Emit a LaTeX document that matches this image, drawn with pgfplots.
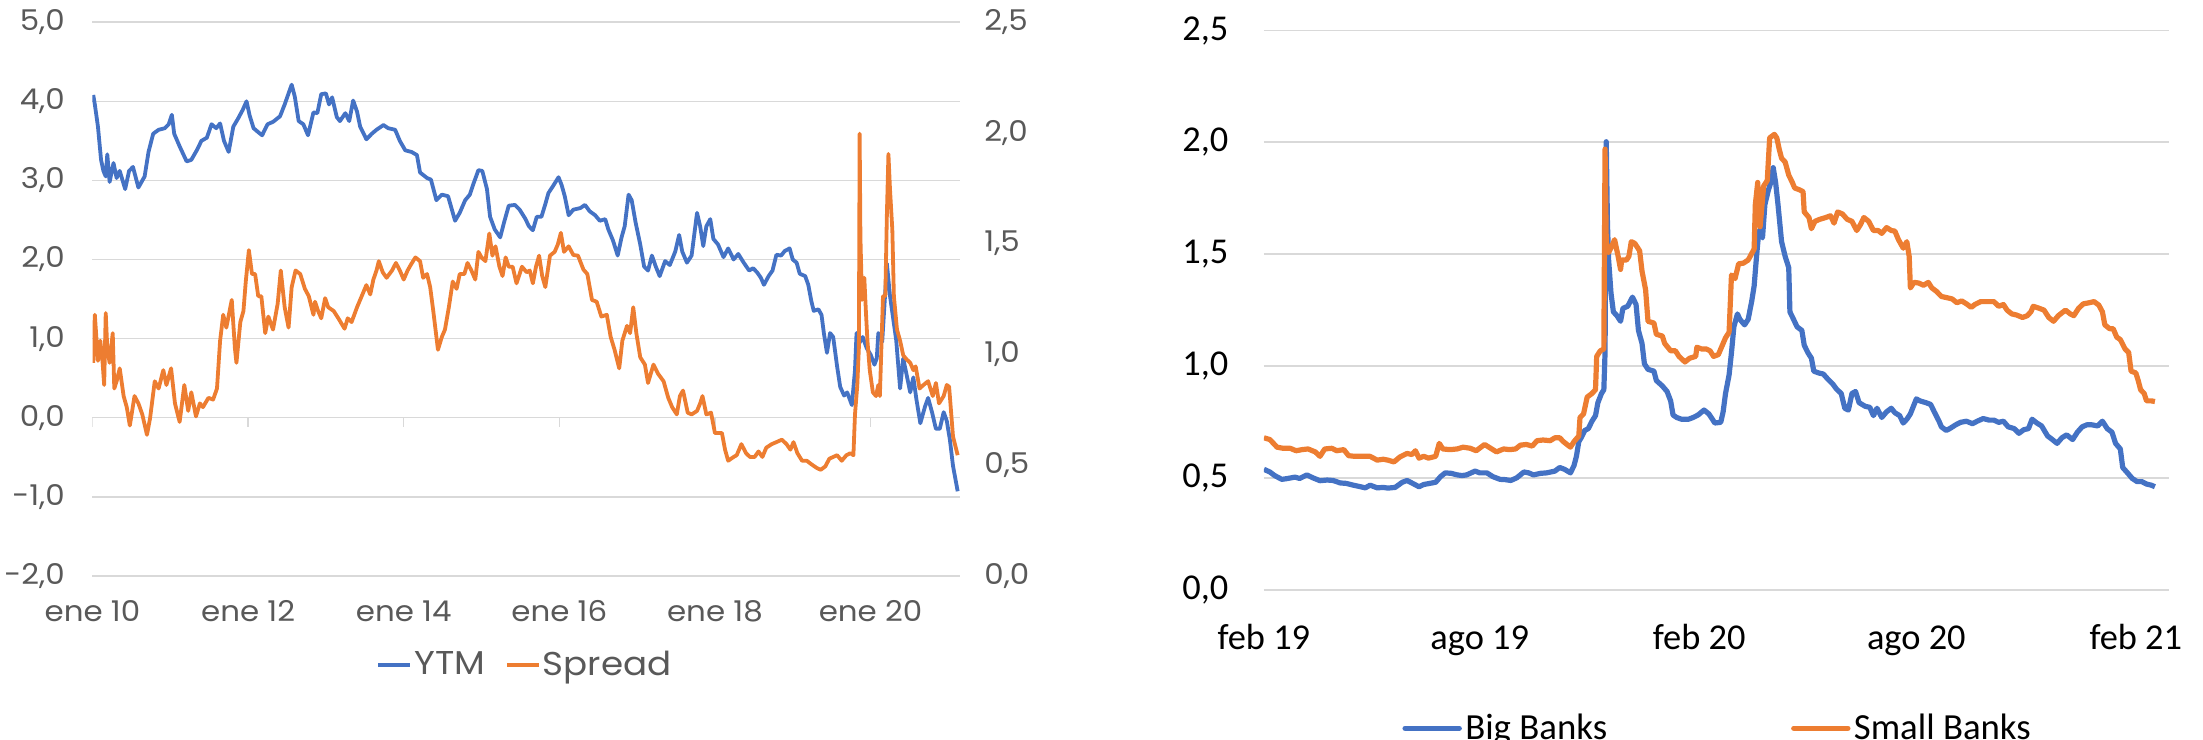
\documentclass[border=0pt]{standalone}
\usepackage{fontspec}
\setmainfont{Carlito}
\newfontfamily\gothic{Poppins}[FakeStretch=1.08]
\usepackage{pgfplots}
\usepackage{pgfplotstable}
\pgfplotsset{compat=1.18}
\definecolor{ytmblue}{HTML}{4472C4}
\definecolor{sprorange}{HTML}{ED7D31}
\definecolor{gridgray}{HTML}{D9D9D9}
\definecolor{labelgray}{HTML}{595959}

\pgfplotstableread{
x y
2010.01 4.08
2010.03 3.96
2010.07 3.68
2010.11 3.26
2010.14 3.12
2010.17 3.05
2010.19 3.33
2010.22 2.98
2010.27 3.22
2010.31 3.03
2010.35 3.12
2010.42 2.89
2010.47 3.12
2010.52 3.17
2010.59 2.91
2010.67 3.05
2010.72 3.36
2010.78 3.59
2010.85 3.64
2010.93 3.66
2010.98 3.71
2011.02 3.83
2011.05 3.59
2011.12 3.43
2011.21 3.24
2011.27 3.26
2011.34 3.38
2011.40 3.50
2011.47 3.54
2011.53 3.71
2011.59 3.66
2011.64 3.72
2011.69 3.50
2011.75 3.36
2011.81 3.68
2011.87 3.78
2011.93 3.89
2011.98 4.00
2012.02 3.82
2012.07 3.66
2012.13 3.61
2012.18 3.57
2012.25 3.71
2012.32 3.74
2012.41 3.81
2012.47 3.96
2012.52 4.10
2012.56 4.21
2012.60 4.06
2012.65 3.75
2012.71 3.71
2012.77 3.57
2012.84 3.86
2012.89 3.85
2012.94 4.09
2013.00 4.10
2013.04 3.96
2013.08 4.05
2013.14 3.80
2013.18 3.75
2013.25 3.85
2013.30 3.75
2013.35 4.01
2013.40 3.87
2013.44 3.68
2013.52 3.52
2013.59 3.59
2013.65 3.64
2013.74 3.70
2013.80 3.66
2013.89 3.64
2013.95 3.50
2014.02 3.38
2014.10 3.36
2014.17 3.32
2014.21 3.10
2014.30 3.03
2014.35 3.01
2014.42 2.75
2014.49 2.82
2014.57 2.80
2014.66 2.49
2014.72 2.59
2014.79 2.75
2014.85 2.82
2014.89 2.94
2014.96 3.13
2015.01 3.12
2015.07 2.89
2015.11 2.54
2015.17 2.38
2015.24 2.28
2015.29 2.47
2015.35 2.68
2015.43 2.69
2015.49 2.63
2015.56 2.52
2015.61 2.42
2015.66 2.37
2015.71 2.54
2015.77 2.54
2015.82 2.70
2015.86 2.84
2015.92 2.93
2015.99 3.04
2016.03 2.94
2016.07 2.80
2016.12 2.56
2016.18 2.63
2016.27 2.65
2016.33 2.69
2016.39 2.61
2016.46 2.56
2016.52 2.49
2016.59 2.51
2016.63 2.38
2016.69 2.24
2016.75 2.05
2016.80 2.28
2016.84 2.42
2016.89 2.82
2016.93 2.75
2016.98 2.47
2017.04 2.19
2017.09 1.91
2017.14 1.86
2017.19 2.05
2017.24 1.91
2017.29 1.79
2017.36 1.98
2017.42 1.93
2017.49 2.10
2017.54 2.31
2017.58 2.10
2017.64 1.96
2017.70 2.05
2017.77 2.59
2017.81 2.42
2017.85 2.17
2017.89 2.42
2017.94 2.51
2017.98 2.26
2018.04 2.19
2018.11 2.03
2018.17 2.14
2018.24 2.00
2018.30 2.07
2018.37 1.96
2018.44 1.86
2018.49 1.89
2018.54 1.84
2018.59 1.77
2018.63 1.68
2018.69 1.79
2018.74 1.86
2018.79 2.06
2018.85 2.05
2018.90 2.11
2018.96 2.14
2019.00 2.00
2019.05 1.96
2019.09 1.82
2019.16 1.79
2019.20 1.68
2019.24 1.47
2019.27 1.35
2019.33 1.37
2019.37 1.30
2019.40 1.07
2019.44 0.82
2019.48 1.07
2019.52 1.02
2019.57 0.65
2019.61 0.39
2019.66 0.28
2019.70 0.32
2019.76 0.16
2019.80 0.60
2019.82 1.07
2019.86 0.95
2019.90 1.02
2019.95 0.88
2020.00 0.80
2020.05 0.67
2020.08 0.75
2020.10 1.07
2020.15 0.96
2020.19 1.60
2020.21 1.95
2020.25 1.54
2020.29 1.26
2020.33 0.98
2020.38 0.37
2020.42 0.75
2020.46 0.56
2020.51 0.32
2020.55 0.51
2020.59 0.23
2020.64 -0.07
2020.70 0.14
2020.74 0.25
2020.79 0.07
2020.84 -0.14
2020.89 -0.14
2020.94 0.07
2020.98 -0.04
2021.02 -0.28
2021.06 -0.61
2021.12 -0.93
}\ytmdata

\pgfplotstableread{
x y
2010.01 0.962
2010.03 1.179
2010.07 0.971
2010.10 1.062
2010.13 0.962
2010.15 0.862
2010.17 1.187
2010.19 1.029
2010.22 0.962
2010.26 1.096
2010.28 0.846
2010.31 0.879
2010.35 0.937
2010.40 0.812
2010.44 0.762
2010.48 0.679
2010.54 0.812
2010.59 0.779
2010.64 0.729
2010.70 0.637
2010.74 0.712
2010.80 0.879
2010.85 0.846
2010.91 0.929
2010.95 0.862
2011.01 0.937
2011.06 0.779
2011.12 0.695
2011.18 0.862
2011.23 0.745
2011.27 0.829
2011.33 0.720
2011.38 0.779
2011.42 0.762
2011.49 0.804
2011.55 0.796
2011.60 0.846
2011.64 1.062
2011.68 1.179
2011.72 1.121
2011.79 1.246
2011.83 1.029
2011.85 0.962
2011.90 1.146
2011.94 1.196
2011.97 1.329
2012.01 1.471
2012.05 1.363
2012.09 1.363
2012.13 1.263
2012.17 1.263
2012.22 1.096
2012.26 1.171
2012.32 1.112
2012.38 1.229
2012.42 1.379
2012.47 1.213
2012.52 1.121
2012.56 1.304
2012.61 1.379
2012.67 1.363
2012.73 1.296
2012.78 1.263
2012.84 1.179
2012.86 1.238
2012.90 1.196
2012.94 1.163
2012.99 1.254
2013.03 1.213
2013.10 1.196
2013.16 1.163
2013.24 1.116
2013.28 1.163
2013.33 1.146
2013.40 1.213
2013.46 1.263
2013.52 1.313
2013.57 1.271
2013.61 1.338
2013.65 1.379
2013.68 1.421
2013.73 1.371
2013.78 1.346
2013.85 1.379
2013.90 1.413
2013.95 1.379
2014.00 1.338
2014.05 1.379
2014.09 1.404
2014.15 1.438
2014.21 1.421
2014.25 1.346
2014.30 1.363
2014.34 1.304
2014.38 1.196
2014.44 1.021
2014.49 1.079
2014.53 1.112
2014.58 1.213
2014.63 1.329
2014.68 1.296
2014.72 1.363
2014.78 1.363
2014.82 1.413
2014.87 1.379
2014.92 1.338
2014.96 1.463
2015.00 1.438
2015.05 1.421
2015.10 1.546
2015.14 1.446
2015.18 1.488
2015.23 1.396
2015.27 1.354
2015.31 1.438
2015.35 1.396
2015.40 1.396
2015.45 1.321
2015.52 1.396
2015.58 1.371
2015.62 1.379
2015.66 1.321
2015.70 1.396
2015.74 1.446
2015.78 1.354
2015.82 1.304
2015.88 1.446
2015.94 1.463
2015.98 1.496
2016.02 1.549
2016.06 1.463
2016.12 1.488
2016.18 1.449
2016.24 1.446
2016.31 1.383
2016.36 1.363
2016.42 1.246
2016.48 1.238
2016.54 1.171
2016.61 1.179
2016.66 1.079
2016.71 1.021
2016.77 0.937
2016.81 1.062
2016.87 1.129
2016.91 1.096
2016.95 1.213
2016.99 1.096
2017.04 0.987
2017.10 0.954
2017.14 0.871
2017.21 0.954
2017.27 0.912
2017.34 0.879
2017.40 0.804
2017.45 0.762
2017.51 0.729
2017.55 0.812
2017.59 0.837
2017.65 0.737
2017.70 0.729
2017.77 0.745
2017.81 0.779
2017.84 0.812
2017.89 0.729
2017.95 0.737
2018.00 0.645
2018.09 0.645
2018.13 0.570
2018.17 0.520
2018.24 0.537
2018.28 0.545
2018.34 0.595
2018.40 0.554
2018.45 0.537
2018.51 0.537
2018.56 0.562
2018.61 0.537
2018.66 0.579
2018.73 0.595
2018.79 0.604
2018.86 0.615
2018.92 0.595
2018.97 0.570
2019.01 0.604
2019.06 0.554
2019.12 0.520
2019.18 0.520
2019.24 0.504
2019.31 0.487
2019.36 0.479
2019.42 0.495
2019.47 0.529
2019.52 0.537
2019.57 0.545
2019.63 0.520
2019.69 0.545
2019.74 0.554
2019.78 0.545
2019.80 0.729
2019.83 0.862
2019.85 1.029
2019.86 1.997
2019.87 1.530
2019.89 1.246
2019.92 1.346
2019.94 1.196
2019.96 1.062
2019.99 0.929
2020.03 0.829
2020.07 0.812
2020.10 0.862
2020.12 0.812
2020.16 1.263
2020.19 1.263
2020.21 1.630
2020.23 1.905
2020.25 1.746
2020.28 1.563
2020.30 1.263
2020.34 1.112
2020.38 1.062
2020.42 0.996
2020.46 0.979
2020.51 0.962
2020.55 0.929
2020.58 0.946
2020.63 0.846
2020.68 0.862
2020.74 0.879
2020.80 0.812
2020.84 0.871
2020.88 0.779
2020.94 0.812
2020.98 0.862
2021.01 0.854
2021.06 0.629
2021.12 0.545
}\spreaddata

\pgfplotstableread{
x y
0 0.538
5 0.526
9 0.510
15 0.493
20 0.497
26 0.503
30 0.497
36 0.513
41 0.500
47 0.487
53 0.490
58 0.488
64 0.477
69 0.475
75 0.467
81 0.460
85 0.455
89 0.467
95 0.455
100 0.457
104 0.454
110 0.457
116 0.480
120 0.488
124 0.477
130 0.460
134 0.470
139 0.475
144 0.480
148 0.505
152 0.522
157 0.520
162 0.513
166 0.510
170 0.513
177 0.530
181 0.522
187 0.522
192 0.505
198 0.493
202 0.492
207 0.488
212 0.500
218 0.526
222 0.522
226 0.513
232 0.520
237 0.522
244 0.530
248 0.546
252 0.538
257 0.522
260 0.555
262 0.596
264 0.662
266 0.679
269 0.712
272 0.720
275 0.753
278 0.778
280 0.836
283 0.877
285 0.894
286 1.060
287 2.003
288 1.639
289 1.474
291 1.325
293 1.242
296 1.225
299 1.200
301 1.258
305 1.267
309 1.308
312 1.275
314 1.159
317 1.101
319 1.010
322 0.985
327 0.977
329 0.935
334 0.911
338 0.886
341 0.844
343 0.781
346 0.770
350 0.762
356 0.762
360 0.770
364 0.781
369 0.803
373 0.786
376 0.762
378 0.745
383 0.748
385 0.795
387 0.877
390 0.960
392 1.060
394 1.175
397 1.233
399 1.209
403 1.184
406 1.209
409 1.291
411 1.358
413 1.490
415 1.606
418 1.573
420 1.722
423 1.788
425 1.821
427 1.887
429 1.821
431 1.722
434 1.556
437 1.490
440 1.440
441 1.242
444 1.209
447 1.175
451 1.159
453 1.093
456 1.060
459 1.035
461 0.977
465 0.969
469 0.964
473 0.940
477 0.919
480 0.897
484 0.877
487 0.811
490 0.803
493 0.877
496 0.886
499 0.836
504 0.820
508 0.815
511 0.778
514 0.811
518 0.770
522 0.795
526 0.811
529 0.791
533 0.778
536 0.745
539 0.762
542 0.786
547 0.853
550 0.844
555 0.836
559 0.828
562 0.795
566 0.753
568 0.728
572 0.712
575 0.720
580 0.737
584 0.748
589 0.753
594 0.742
598 0.753
603 0.765
608 0.758
612 0.758
616 0.748
620 0.753
624 0.728
629 0.720
633 0.699
637 0.715
641 0.720
644 0.762
648 0.745
652 0.732
657 0.687
661 0.671
665 0.654
669 0.679
673 0.692
678 0.671
682 0.704
686 0.728
690 0.737
694 0.737
699 0.732
703 0.753
707 0.720
711 0.704
714 0.654
718 0.629
720 0.546
724 0.522
728 0.497
732 0.483
736 0.483
740 0.472
744 0.467
747 0.460
}\bigdata

\pgfplotstableread{
x y
0 0.679
5 0.671
11 0.637
16 0.632
22 0.632
27 0.621
32 0.626
37 0.629
43 0.616
47 0.596
51 0.629
57 0.632
61 0.621
67 0.626
71 0.599
76 0.596
82 0.596
89 0.596
95 0.579
100 0.583
104 0.579
109 0.571
114 0.593
120 0.609
124 0.604
127 0.621
130 0.588
134 0.596
138 0.588
144 0.596
147 0.654
150 0.629
156 0.626
162 0.629
167 0.637
173 0.632
178 0.621
185 0.649
191 0.629
195 0.616
201 0.629
206 0.626
211 0.629
215 0.646
220 0.649
225 0.642
229 0.666
234 0.669
240 0.666
244 0.679
248 0.679
251 0.662
257 0.637
260 0.662
264 0.687
265 0.770
268 0.786
271 0.861
275 0.877
278 0.894
279 1.043
282 1.068
285 1.076
286 1.970
287 1.556
289 1.507
292 1.540
294 1.565
297 1.490
299 1.432
300 1.474
304 1.474
306 1.490
308 1.556
311 1.548
315 1.515
317 1.424
320 1.341
322 1.200
327 1.192
329 1.142
334 1.134
336 1.101
341 1.068
345 1.068
348 1.043
353 1.018
357 1.035
362 1.043
363 1.084
367 1.076
371 1.076
374 1.068
377 1.043
381 1.051
383 1.076
387 1.126
390 1.151
392 1.407
395 1.391
398 1.457
402 1.460
406 1.474
411 1.523
412 1.722
414 1.821
416 1.623
419 1.805
422 1.829
424 2.020
426 2.028
428 2.036
430 2.020
432 1.970
434 1.929
437 1.912
440 1.854
443 1.821
445 1.796
449 1.788
452 1.780
453 1.689
457 1.664
459 1.614
462 1.647
466 1.656
471 1.664
475 1.672
478 1.639
481 1.689
485 1.680
489 1.656
493 1.647
497 1.606
500 1.631
503 1.664
507 1.647
511 1.606
515 1.606
518 1.593
522 1.619
526 1.606
529 1.603
532 1.565
536 1.527
539 1.556
541 1.490
542 1.349
545 1.374
549 1.371
553 1.361
557 1.374
560 1.349
564 1.333
568 1.311
573 1.305
577 1.300
581 1.283
585 1.291
589 1.278
593 1.262
596 1.275
601 1.288
606 1.288
612 1.288
616 1.267
620 1.275
623 1.250
627 1.233
631 1.228
636 1.217
640 1.225
643 1.242
645 1.267
650 1.258
654 1.250
658 1.217
662 1.200
666 1.225
672 1.250
676 1.233
679 1.225
683 1.258
687 1.278
692 1.283
696 1.288
700 1.272
703 1.242
705 1.184
709 1.167
712 1.167
715 1.129
718 1.118
722 1.076
725 1.060
727 0.977
731 0.969
733 0.935
735 0.894
738 0.877
740 0.844
744 0.844
747 0.841
}\smalldata

\begin{document}
\begin{tikzpicture}
\useasboundingbox (0,0) rectangle (1101.5pt,369.5pt);

% ---------- Left chart: primary axis (YTM) ----------
\begin{axis}[
  at={(46.25pt,81.55pt)}, anchor=south west,
  scale only axis, width=433.75pt, height=276.85pt,
  xmin=2010, xmax=2021.15, ymin=-2, ymax=5,
  ytick={-2,-1,0,1,2,3,4,5},
  yticklabels={{-2,0},{-1,0},{0,0},{1,0},{2,0},{3,0},{4,0},{5,0}},
  xtick={2010,2012,2014,2016,2018,2020},
  xticklabels={ene 10,ene 12,ene 14,ene 16,ene 18,ene 20},
  axis lines*=left, axis line style={draw=none},
  major tick length=0pt, tick style={draw=none},
  ymajorgrids, grid style={gridgray, line width=0.75pt},
  tick label style={font=\gothic\fontsize{14.3}{17}\selectfont, text=labelgray},
  yticklabel style={anchor=east, inner sep=0pt, xshift=-13.7pt},
  xticklabel style={anchor=base, inner sep=0pt, yshift=-22.9pt}
]
\draw[gridgray, line width=0.75pt] (axis cs:2010,0) -- (axis cs:2021.15,0);
\draw[gridgray, line width=0.75pt] (axis cs:2010,0) -- ([yshift=-4.5pt]axis cs:2010,0);
\draw[gridgray, line width=0.75pt] (axis cs:2012,0) -- ([yshift=-4.5pt]axis cs:2012,0);
\draw[gridgray, line width=0.75pt] (axis cs:2014,0) -- ([yshift=-4.5pt]axis cs:2014,0);
\draw[gridgray, line width=0.75pt] (axis cs:2016,0) -- ([yshift=-4.5pt]axis cs:2016,0);
\draw[gridgray, line width=0.75pt] (axis cs:2018,0) -- ([yshift=-4.5pt]axis cs:2018,0);
\draw[gridgray, line width=0.75pt] (axis cs:2020,0) -- ([yshift=-4.5pt]axis cs:2020,0);
\addplot[ytmblue, line width=1.9pt, line join=round] table[x=x,y=y] {\ytmdata};
\end{axis}

% ---------- Left chart: secondary axis (Spread) ----------
\begin{axis}[
  at={(46.25pt,81.55pt)}, anchor=south west,
  scale only axis, width=433.75pt, height=276.85pt,
  xmin=2010, xmax=2021.15, ymin=0, ymax=2.5,
  ytick={0,0.5,1,1.5,2,2.5},
  yticklabels={{0,0},{0,5},{1,0},{1,5},{2,0},{2,5}},
  axis x line=none, axis y line*=right,
  y axis line style={draw=none},
  major tick length=0pt, tick style={draw=none},
  tick label style={font=\gothic\fontsize{14.3}{17}\selectfont, text=labelgray},
  yticklabel style={anchor=west, inner sep=0pt, xshift=12pt},
  legend columns=2,
  legend style={at={(0.3268,-0.1606)}, anchor=west, draw=none, fill=none, inner sep=0pt,
    nodes={inner sep=0pt, text=labelgray, font=\gothic\fontsize{16.5}{19}\selectfont},
    /tikz/every odd column/.style={column sep=1pt},
    /tikz/every even column/.style={column sep=10pt}},
  legend image code/.code={\draw[#1, line width=1.9pt] (0pt,0pt) -- (16pt,0pt);}
]
\addlegendimage{ytmblue, line width=1.9pt}
\addlegendentry{YTM}
\addplot[sprorange, line width=1.9pt, line join=round] table[x=x,y=y] {\spreaddata};
\addlegendentry{Spread}
\end{axis}

% ---------- Right chart ----------
\begin{axis}[
  at={(631.95pt,74.7pt)}, anchor=south west,
  scale only axis, width=452.65pt, height=279.5pt,
  xmin=0, xmax=759, ymin=0, ymax=2.5,
  ytick={0,0.5,1,1.5,2,2.5},
  yticklabels={{0,0},{0,5},{1,0},{1,5},{2,0},{2,5}},
  xtick={0,181,365,547,731},
  xticklabels={feb 19,ago 19,feb 20,ago 20,feb 21},
  axis lines*=left, axis line style={draw=none},
  major tick length=0pt, tick style={draw=none},
  ymajorgrids, grid style={gridgray, line width=0.9pt},
  tick label style={font=\fontsize{18.2}{21}\selectfont, text=black},
  yticklabel style={anchor=east, inner sep=0pt, xshift=-17.6pt},
  xticklabel style={anchor=base, inner sep=0pt, yshift=-29.9pt},
  legend columns=2,
  legend style={at={(0.1526,-0.2480)}, anchor=west, draw=none, fill=none, inner sep=0pt,
    nodes={inner sep=0pt, text=black, font=\fontsize{18.4}{21}\selectfont},
    /tikz/every odd column/.style={column sep=1.7pt},
    /tikz/every even column/.style={column sep=92pt}},
  legend image code/.code={\draw[#1, line width=2.7pt, line cap=round] (0pt,0pt) -- (27pt,0pt);}
]
\draw[gridgray, line width=0.9pt] (axis cs:0,0) -- ([yshift=-5.8pt]axis cs:0,0);
\draw[gridgray, line width=0.9pt] (axis cs:181,0) -- ([yshift=-5.8pt]axis cs:181,0);
\draw[gridgray, line width=0.9pt] (axis cs:365,0) -- ([yshift=-5.8pt]axis cs:365,0);
\draw[gridgray, line width=0.9pt] (axis cs:547,0) -- ([yshift=-5.8pt]axis cs:547,0);
\draw[gridgray, line width=0.9pt] (axis cs:731,0) -- ([yshift=-5.8pt]axis cs:731,0);
\addplot[ytmblue, line width=2.6pt, line join=round] table[x=x,y=y] {\bigdata};
\addlegendentry{Big Banks}
\addplot[sprorange, line width=2.6pt, line join=round] table[x=x,y=y] {\smalldata};
\addlegendentry{Small Banks}
\end{axis}
\end{tikzpicture}
\end{document}
